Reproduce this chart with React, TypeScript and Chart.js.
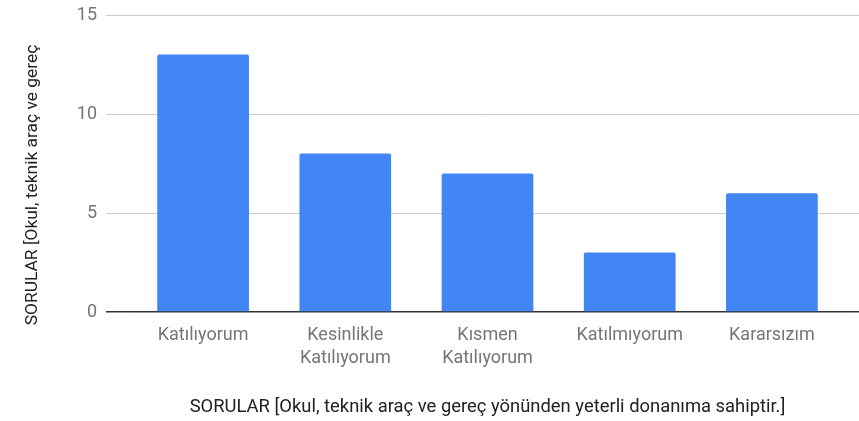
import React, { useEffect, useRef } from "react";
import { Chart, registerables } from "chart.js";

Chart.register(...registerables);

const categories: (string | string[])[] = [
  "Katılıyorum",
  ["Kesinlikle", "Katılıyorum"],
  ["Kısmen", "Katılıyorum"],
  "Katılmıyorum",
  "Kararsızım",
];
const values = [13, 8, 7, 3, 6];
const yMin = 0;
const yMax = 15;
const yStep = 5;
const xTitle = "SORULAR [Okul, teknik araç ve gereç yönünden yeterli donanıma sahiptir.]";
const yTitle = "SORULAR [Okul, teknik araç ve gereç";

const FONT = "Roboto";

const titlesPlugin = {
  id: "titles",
  afterDraw(chart: any) {
    const ctx = chart.ctx as CanvasRenderingContext2D;
    const area = chart.chartArea;
    ctx.save();
    ctx.fillStyle = "#222222";
    ctx.textAlign = "center";
    ctx.textBaseline = "alphabetic";
    ctx.font = `18.4px ${FONT}`;
    ctx.fillText(xTitle, (area.left + area.right) / 2, 412);
    ctx.font = `17.4px ${FONT}`;
    ctx.translate(37, 185);
    ctx.rotate(-Math.PI / 2);
    ctx.fillText(yTitle, 0, 0);
    ctx.restore();
  },
};

export default function App() {
  const ref = useRef<HTMLCanvasElement | null>(null);
  useEffect(() => {
    if (!ref.current) return;
    const gridColor = (c: any) => (c.tick && c.tick.value === 0 ? "#333333" : "#cccccc");
    const chart = new Chart(ref.current, {
      type: "bar",
      data: {
        labels: categories,
        datasets: [
          {
            data: values,
            backgroundColor: "#4285F4",
            borderRadius: { topLeft: 2, topRight: 2, bottomLeft: 0, bottomRight: 0 },
            borderSkipped: "bottom",
            categoryPercentage: 1,
            barPercentage: 0.645,
          },
        ],
      },
      options: {
        animation: false,
        responsive: false,
        maintainAspectRatio: false,
        layout: { padding: { top: 15, left: 0, right: 0, bottom: 0 } },
        plugins: { legend: { display: false }, tooltip: { enabled: false } },
        scales: {
          x: {
            grid: { display: false, drawTicks: false },
            border: { display: false },
            ticks: {
              color: "#757575",
              font: { family: FONT, size: 18, lineHeight: 1.27 },
              padding: 12,
              maxRotation: 0,
              autoSkip: false,
            },
            afterFit(scale: any) {
              scale.height = 109;
              scale.paddingLeft = 0;
              scale.paddingRight = 0;
            },
          },
          y: {
            position: "left",
            min: yMin,
            max: yMax,
            ticks: {
              stepSize: yStep,
              color: "#757575",
              font: { family: FONT, size: 18 },
              padding: 9,
            },
            grid: {
              color: gridColor,
              tickColor: gridColor,
              tickLength: 26,
              lineWidth: (c: any) => (c.tick && c.tick.value === 0 ? 1.5 : 1),
            },
            border: { display: false },
            afterFit(scale: any) {
              scale.width = 132;
              scale.paddingTop = 0;
              scale.paddingBottom = 0;
            },
          },
          y2: {
            position: "right",
            min: yMin,
            max: yMax,
            ticks: { stepSize: yStep, display: false },
            grid: {
              drawOnChartArea: false,
              color: gridColor,
              tickColor: gridColor,
              tickLength: 16,
              lineWidth: (c: any) => (c.tick && c.tick.value === 0 ? 1.5 : 1),
            },
            border: { display: false },
            afterFit(scale: any) {
              scale.width = 16;
              scale.paddingTop = 0;
              scale.paddingBottom = 0;
            },
          },
        },
      },
      plugins: [titlesPlugin],
    } as any);
    return () => chart.destroy();
  }, []);
  return (
    <div style={{ position: "fixed", left: 0, top: 0, width: 859, height: 421, background: "#ffffff" }}>
      <canvas ref={ref} width={859} height={421} style={{ width: 859, height: 421, display: "block" }} />
    </div>
  );
}
